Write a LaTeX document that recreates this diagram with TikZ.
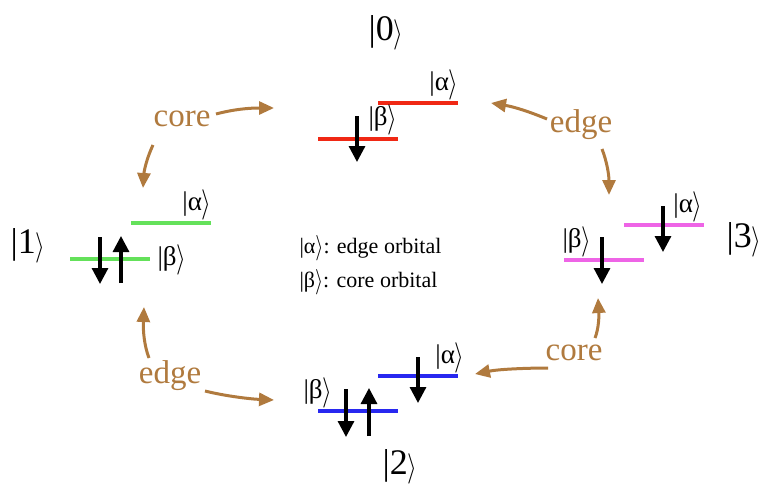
\documentclass[tikz,border=0pt]{standalone}
\usepackage{fontspec}
\usepackage{graphicx}
\setmainfont{Liberation Serif}
\usetikzlibrary{arrows.meta}
\definecolor{brn}{RGB}{176,122,62}
\definecolor{lred}{RGB}{240,40,20}
\definecolor{lgreen}{RGB}{100,225,90}
\definecolor{lmag}{RGB}{238,100,230}
\definecolor{lblue}{RGB}{40,40,240}
\newcommand{\kt}[1]{|#1\raisebox{-0.06em}{\scalebox{1}[1.22]{$\rangle$}}}
\tikzset{
  lvl/.style={line width=4pt},
  spin/.style={line width=3.2pt,-{Triangle[length=16pt,width=16pt]}},
  trans/.style={brn,line width=3pt,-{Triangle[length=15pt,width=13pt]}},
  ketsm/.style={font=\fontsize{27}{30}\selectfont},
  ketbig/.style={font=\fontsize{36}{40}\selectfont,inner sep=0pt},
  lbl/.style={brn,font=\fontsize{33}{36}\selectfont},
  leg/.style={font=\fontsize{22}{25}\selectfont}
}
\begin{document}
\begin{tikzpicture}[x=1pt,y=-1pt]
\useasboundingbox (0,0) rectangle (761,490);
% state labels
\node[ketbig] (s0) at (386,33) {\kt{0}};
\node[ketbig] (s1) at (28,246) {\kt{1}};
\node[ketbig] (s2) at (400,467) {\kt{2}};
\node[ketbig] (s3) at (744,240) {\kt{3}};
% state 0
\coordinate (r1a) at (378,103); \coordinate (r1b) at (458,103);
\coordinate (r2a) at (318,139); \coordinate (r2b) at (398,139);
\draw[lvl,lred] (r1a) -- (r1b);
\draw[lvl,lred] (r2a) -- (r2b);
\node[ketsm] (a0) at (444,85) {\kt{α}};
\node[ketsm] (b0) at (383,120) {\kt{β}};
\coordinate (d0t) at (357,116); \coordinate (d0b) at (357,162);
\draw[spin] (d0t) -- (d0b);
% state 1
\coordinate (g1a) at (131,223); \coordinate (g1b) at (211,223);
\coordinate (g2a) at (70,259); \coordinate (g2b) at (150,259);
\draw[lvl,lgreen] (g1a) -- (g1b);
\draw[lvl,lgreen] (g2a) -- (g2b);
\node[ketsm] (a1) at (197,205) {\kt{α}};
\node[ketsm] (b1) at (172,260) {\kt{β}};
\coordinate (d1t) at (100,237); \coordinate (d1b) at (100,284);
\coordinate (u1t) at (121,236); \coordinate (u1b) at (121,283);
\draw[spin] (d1t) -- (d1b);
\draw[spin] (u1b) -- (u1t);
% state 3
\coordinate (m1a) at (624,225); \coordinate (m1b) at (704,225);
\coordinate (m2a) at (564,260); \coordinate (m2b) at (644,260);
\draw[lvl,lmag] (m1a) -- (m1b);
\draw[lvl,lmag] (m2a) -- (m2b);
\node[ketsm] (a3) at (688,207) {\kt{α}};
\node[ketsm] (b3) at (577,242) {\kt{β}};
\coordinate (d3at) at (663,206); \coordinate (d3ab) at (663,252);
\coordinate (d3bt) at (602,237); \coordinate (d3bb) at (602,284);
\draw[spin] (d3at) -- (d3ab);
\draw[spin] (d3bt) -- (d3bb);
% state 2
\coordinate (bl1a) at (378,376); \coordinate (bl1b) at (458,376);
\coordinate (bl2a) at (318,411); \coordinate (bl2b) at (398,411);
\draw[lvl,lblue] (bl1a) -- (bl1b);
\draw[lvl,lblue] (bl2a) -- (bl2b);
\node[ketsm] (a2) at (450,358) {\kt{α}};
\node[ketsm] (b2) at (318,393) {\kt{β}};
\coordinate (d2at) at (418,357); \coordinate (d2ab) at (418,403);
\coordinate (d2bt) at (346,389); \coordinate (d2bb) at (346,437);
\coordinate (u2t) at (369,388); \coordinate (u2b) at (369,436);
\draw[spin] (d2at) -- (d2ab);
\draw[spin] (d2bt) -- (d2bb);
\draw[spin] (u2b) -- (u2t);
% legend
\node[leg,anchor=west] (l1) at (296,248) {\kt{α}: edge orbital};
\node[leg,anchor=west] (l2) at (296,282) {\kt{β}: core orbital};
% transitions
\node[lbl] (c01) at (182,119) {core};
\node[lbl] (e03) at (581,125) {edge};
\node[lbl] (c23) at (574,353) {core};
\node[lbl] (e12) at (170,376) {edge};
\coordinate (t1) at (274,108);
\coordinate (t2) at (143,188);
\coordinate (t3) at (491,103);
\coordinate (t4) at (609,195);
\coordinate (t5) at (475,374);
\coordinate (t6) at (598,298);
\coordinate (t7) at (144,307);
\coordinate (t8) at (274,400);
\draw[trans] (216,114) .. controls (235,109) and (250,108) .. (t1);
\draw[trans] (153,145) .. controls (146,160) and (144,172) .. (t2);
\draw[trans] (547,119) .. controls (530,112) and (515,107) .. (t3);
\draw[trans] (602,149) .. controls (607,162) and (609,175) .. (t4);
\draw[trans] (548,368) .. controls (530,368) and (500,369) .. (t5);
\draw[trans] (595,338) .. controls (599,328) and (599,315) .. (t6);
\draw[trans] (149,358) .. controls (144,345) and (143,330) .. (t7);
\draw[trans] (205,391) .. controls (225,396) and (250,399) .. (t8);
\end{tikzpicture}
\end{document}
